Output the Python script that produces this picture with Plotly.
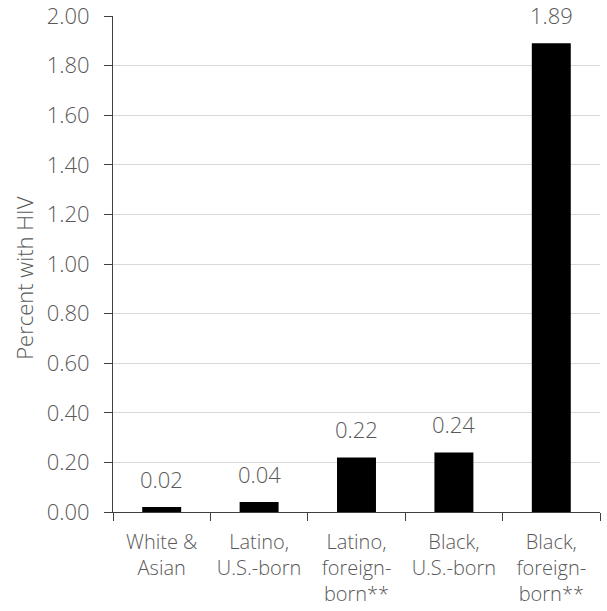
import plotly.graph_objects as go

categories = ["White &<br>Asian", "Latino,<br>U.S.-born", "Latino,<br>foreign-<br>born**",
              "Black,<br>U.S.-born", "Black,<br>foreign-<br>born**"]
values = [0.02, 0.04, 0.22, 0.24, 1.89]
value_labels = ["0.02", "0.04", "0.22", "0.24", "1.89"]
y_ticks = [0.0, 0.2, 0.4, 0.6, 0.8, 1.0, 1.2, 1.4, 1.6, 1.8, 2.0]
y_title = "Percent with HIV"

FONT = "Open Sans"
TEXT_GRAY = "#595959"
LIGHT = 300

fig = go.Figure(
    go.Bar(
        x=categories,
        y=values,
        marker=dict(color="#000000", line=dict(width=0)),
        width=0.4,
        hoverinfo="skip",
    )
)

# Value labels above each bar
for cat, val, lab in zip(categories, values, value_labels):
    fig.add_annotation(
        x=cat, y=val, text=lab, showarrow=False,
        yanchor="bottom", yshift=11,
        font=dict(family=FONT, size=22, color=TEXT_GRAY, weight=LIGHT),
    )

# Vertical axis title, set slightly below the plot's middle
fig.add_annotation(
    xref="paper", yref="paper", x=-0.183, y=0.472,
    text=y_title, textangle=-90, showarrow=False,
    xanchor="center", yanchor="middle",
    font=dict(family=FONT, size=22, color=TEXT_GRAY, weight=LIGHT),
)

fig.update_layout(
    width=607, height=611,
    margin=dict(l=113, r=7, t=16, b=99, autoexpand=False),
    paper_bgcolor="white", plot_bgcolor="white",
    showlegend=False,
    font=dict(family=FONT, color=TEXT_GRAY),
)

fig.update_xaxes(
    showline=True, linecolor="#404040", linewidth=1,
    ticks="outside", tickson="boundaries", ticklen=8, tickcolor="#404040",
    tickfont=dict(family=FONT, size=20, color=TEXT_GRAY, weight=LIGHT),
    tickangle=0,
    ticklabelstandoff=12,
    ticklabeloverflow="allow",
    automargin=False,
    showgrid=False,
)

fig.update_yaxes(
    range=[0, 2.0],
    tickvals=y_ticks,
    ticktext=[f"{v:.2f}" for v in y_ticks],
    showline=True, linecolor="#404040", linewidth=1,
    ticks="outside", ticklen=8, tickcolor="#404040",
    tickfont=dict(family=FONT, size=22, color=TEXT_GRAY, weight=LIGHT),
    ticklabelstandoff=10,
    ticklabeloverflow="allow",
    automargin=False,
    showgrid=True, gridcolor="#d9d9d9", gridwidth=1,
    zeroline=False,
)

fig.write_html("out.html")
